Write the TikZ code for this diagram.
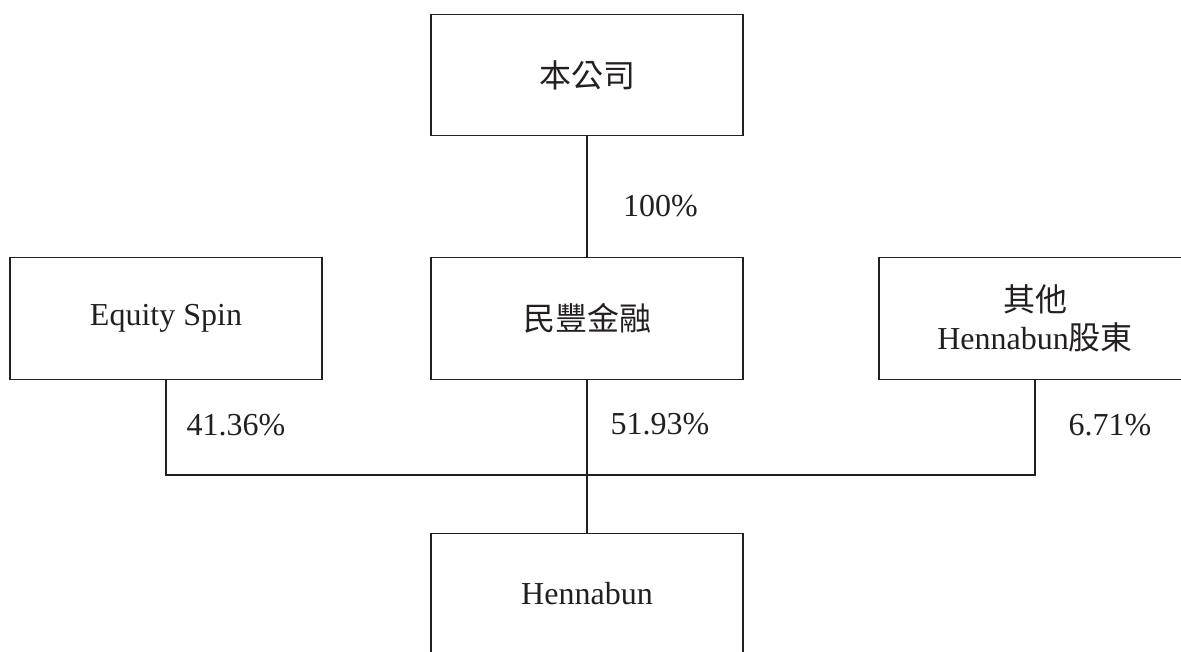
\documentclass[tikz,border=0pt]{standalone}
\usepackage{fontspec}
\setmainfont{Liberation Serif}
\newfontfamily\cjk{Noto Sans CJK TC}
\definecolor{ink}{HTML}{231F20}
\begin{document}
\begin{tikzpicture}[x=1pt,y=-1pt,
  every node/.style={font=\fontsize{32}{40}\selectfont, text=ink},
  entity/.style={draw=ink, line width=1.3pt, minimum width=312pt, minimum height=121.5pt, inner sep=0pt, align=center},
  pct/.style={inner sep=0pt},
  link/.style={draw=ink, line width=1.3pt}]
\useasboundingbox (0,0) rectangle (1181,651);
\clip (0,0) rectangle (1181,651);
\node[entity] (top) at (587,75) {\cjk 本公司};
\node[entity] (mid) at (587,318.5) {\cjk 民豐金融};
\node[entity] (left) at (166,318.5) {Equity Spin};
\node[entity] (right) at (1035,318.5) {{\cjk 其他}\\[-2pt]Hennabun{\cjk 股東}};
\node[entity] (bot) at (587,594) {Hennabun};
\coordinate (j) at (587,475);
\draw[link] (top) -- (mid);
\draw[link] (left.south) |- (j) -| (right.south);
\draw[link] (mid) -- (bot);
\node[pct] (p100) at (660.5,206) {100\%};
\node[pct] (p41) at (236,425) {41.36\%};
\node[pct] (p52) at (660,424.5) {51.93\%};
\node[pct] (p67) at (1110,425) {6.71\%};
\end{tikzpicture}
\end{document}
